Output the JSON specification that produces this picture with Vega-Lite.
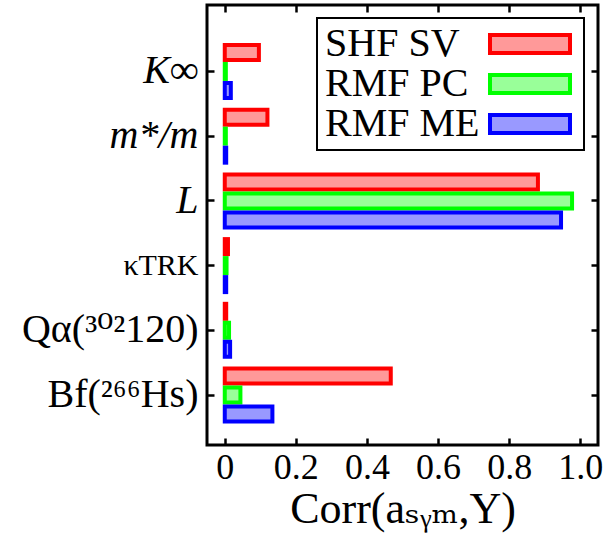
{
  "$schema": "https://vega.github.io/schema/vega-lite/v6.json",
  "width": 391,
  "height": 440,
  "autosize": {"type": "none"},
  "padding": {"left": 207, "top": 5, "right": 7, "bottom": 96},
  "config": {
    "view": {"stroke": "black", "strokeWidth": 3},
    "font": "Liberation Serif, DejaVu Serif",
    "legend": {"strokeWidth": 2}
  },
  "data": {
    "values": [
      {"param": "K∞", "model": "SHF SV", "corr": 0.096},
      {"param": "K∞", "model": "RMF PC", "corr": 0.003},
      {"param": "K∞", "model": "RMF ME", "corr": 0.017},
      {"param": "m*/m", "model": "SHF SV", "corr": 0.120},
      {"param": "m*/m", "model": "RMF PC", "corr": 0.003},
      {"param": "m*/m", "model": "RMF ME", "corr": 0.004},
      {"param": "L", "model": "SHF SV", "corr": 0.881},
      {"param": "L", "model": "RMF PC", "corr": 0.977},
      {"param": "L", "model": "RMF ME", "corr": 0.946},
      {"param": "κTRK", "model": "SHF SV", "corr": 0.009},
      {"param": "κTRK", "model": "RMF PC", "corr": 0.005},
      {"param": "κTRK", "model": "RMF ME", "corr": 0.004},
      {"param": "Qα(³⁰²120)", "model": "SHF SV", "corr": 0.004},
      {"param": "Qα(³⁰²120)", "model": "RMF PC", "corr": 0.012},
      {"param": "Qα(³⁰²120)", "model": "RMF ME", "corr": 0.015},
      {"param": "Bf(²⁶⁶Hs)", "model": "SHF SV", "corr": 0.467},
      {"param": "Bf(²⁶⁶Hs)", "model": "RMF PC", "corr": 0.044},
      {"param": "Bf(²⁶⁶Hs)", "model": "RMF ME", "corr": 0.134}
    ]
  },
  "layer": [
    {
      "mark": {"type": "bar", "strokeWidth": 4},
      "encoding": {
        "y": {
          "field": "param",
          "type": "nominal",
          "sort": null,
          "scale": {"paddingInner": 0.181, "paddingOuter": 0.49, "align": 0.63},
          "axis": {
            "title": null,
            "domain": false,
            "tickSize": -7,
            "tickWidth": 2.5,
            "tickColor": "black",
            "labelPadding": 16,
            "labelColor": "black",
            "labelFont": "Liberation Serif, DejaVu Serif",
            "labelFontSize": {"condition": {"test": "datum.value === 'κTRK'", "value": 30}, "value": 40},
            "labelFontStyle": {"condition": {"test": "datum.value === 'K∞' || datum.value === 'm*/m' || datum.value === 'L'", "value": "italic"}, "value": "normal"}
          }
        },
        "yOffset": {
          "field": "model",
          "sort": null,
          "scale": {"paddingInner": 0.21, "paddingOuter": 0}
        },
        "x": {
          "field": "corr",
          "type": "quantitative",
          "scale": {"domain": [-0.05, 1.05], "nice": false},
          "axis": {
            "values": [0, 0.2, 0.4, 0.6, 0.8, 1.0],
            "labelExpr": "datum.value === 0 ? '0' : format(datum.value, '.1f')",
            "grid": false,
            "domain": false,
            "tickSize": -7,
            "tickWidth": 2.5,
            "tickColor": "black",
            "labelPadding": 12,
            "labelColor": "black",
            "labelFont": "Liberation Serif, DejaVu Serif",
            "labelFontSize": 36,
            "title": "Corr(aₛᵧₘ,Y)",
            "titleFont": "Liberation Serif, DejaVu Serif",
            "titleFontSize": 44,
            "titleFontWeight": "normal",
            "titleColor": "black",
            "titlePadding": 2
          }
        },
        "fill": {
          "field": "model",
          "type": "nominal",
          "sort": null,
          "scale": {"domain": ["SHF SV", "RMF PC", "RMF ME"], "range": ["#FF9999", "#99FF99", "#9999FF"]},
          "legend": {
            "title": null,
            "orient": "none",
            "legendX": 110,
            "legendY": 13,
            "padding": 6,
            "strokeColor": "black",
            "fillColor": "white",
            "symbolType": "M-4,-0.9L4,-0.9L4,0.9L-4,0.9Z",
            "symbolSize": 400,
            "symbolStrokeWidth": 4,
            "symbolOffset": 187,
            "labelOffset": -225,
            "labelFont": "Liberation Serif, DejaVu Serif",
            "labelFontSize": 40,
            "labelColor": "black",
            "rowPadding": -2
          }
        },
        "stroke": {
          "field": "model",
          "type": "nominal",
          "sort": null,
          "scale": {"domain": ["SHF SV", "RMF PC", "RMF ME"], "range": ["#FF0000", "#00FF00", "#0000FF"]},
          "legend": {
            "title": null,
            "orient": "none",
            "legendX": 110,
            "legendY": 13,
            "padding": 6,
            "strokeColor": "black",
            "fillColor": "white",
            "symbolType": "M-4,-0.9L4,-0.9L4,0.9L-4,0.9Z",
            "symbolSize": 400,
            "symbolStrokeWidth": 4,
            "symbolOffset": 187,
            "labelOffset": -225,
            "labelFont": "Liberation Serif, DejaVu Serif",
            "labelFontSize": 40,
            "labelColor": "black",
            "rowPadding": -2
          }
        }
      }
    },
    {
      "mark": {"type": "point", "opacity": 0},
      "encoding": {
        "y": {
          "field": "param",
          "type": "nominal",
          "sort": null,
          "axis": {"orient": "right", "labels": false, "title": null, "domain": false, "tickSize": -7, "tickWidth": 2.5, "tickColor": "black"}
        },
        "x": {
          "field": "corr",
          "type": "quantitative",
          "axis": {"orient": "top", "values": [0, 0.2, 0.4, 0.6, 0.8, 1.0], "labels": false, "title": null, "grid": false, "domain": false, "tickSize": -7, "tickWidth": 2.5, "tickColor": "black"}
        }
      }
    }
  ],
  "resolve": {"axis": {"x": "independent", "y": "independent"}}
}
